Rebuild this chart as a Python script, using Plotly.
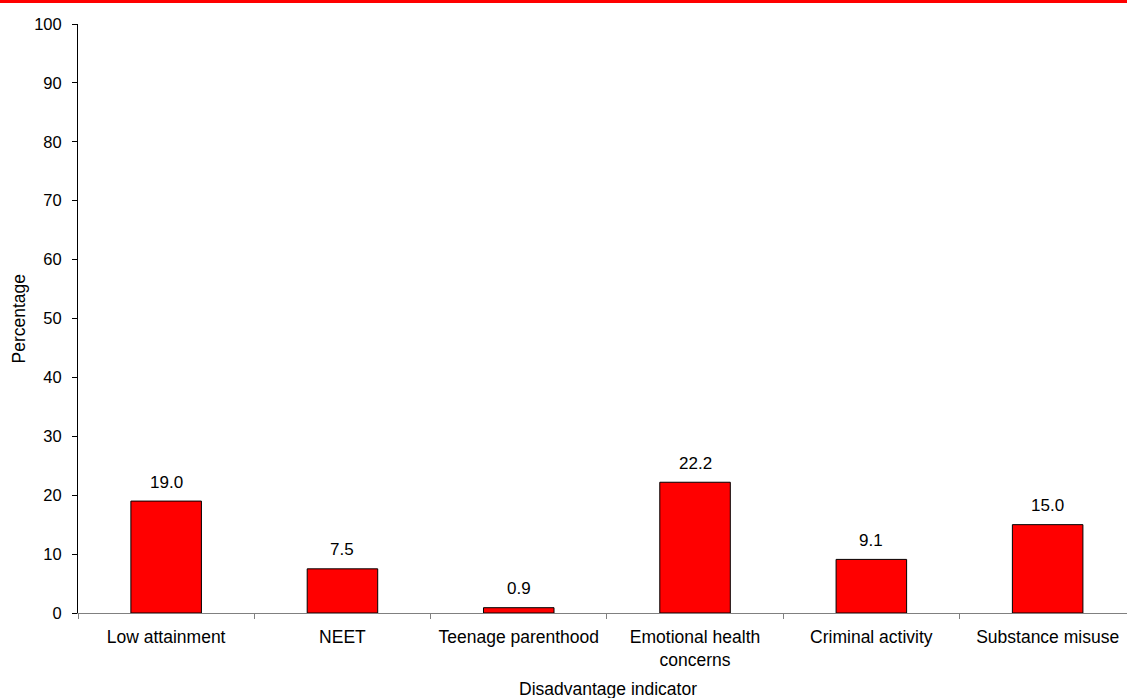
import plotly.graph_objects as go

categories = ["Low attainment", "NEET", "Teenage parenthood",
              "Emotional health<br>concerns", "Criminal activity", "Substance misuse"]
values = [19.0, 7.5, 0.9, 22.2, 9.1, 15.0]
y_ticks = [0, 10, 20, 30, 40, 50, 60, 70, 80, 90, 100]
x_title = "Disadvantage indicator"
y_title = "Percentage"

W, H = 1127, 698
L, R, T, B = 78, 0, 24, 85
plot_w = W - L - R
plot_h = H - T - B
cat_px = 176.3
FONT = "Liberation Sans, Arial, sans-serif"
FS_CAT = 17.5
FS_TICK = 16.5
FS_BAR = 17

fig = go.Figure(go.Bar(
    x=categories, y=values,
    marker=dict(color="#FF0000", line=dict(color="#000000", width=1)),
    width=0.4,
    hoverinfo="x+y",
))

annotations = [
    dict(x=c, y=v, xref="x", yref="y", text=f"{v:.1f}", showarrow=False,
         yanchor="middle", yshift=19, font=dict(size=FS_BAR))
    for c, v in zip(categories, values)
]
annotations.append(dict(
    x=(608 - L) / plot_w, y=-(689 - (T + plot_h)) / plot_h,
    xref="paper", yref="paper", text=x_title, showarrow=False,
    xanchor="center", yanchor="middle", font=dict(size=FS_CAT)))
annotations.append(dict(
    x=-(L - 18) / plot_w, y=0.5, xref="paper", yref="paper",
    text=y_title, showarrow=False, textangle=-90,
    xanchor="center", yanchor="middle", font=dict(size=FS_CAT)))

fig.update_layout(
    width=W, height=H,
    margin=dict(l=L, r=R, t=T, b=B, pad=0),
    paper_bgcolor="white", plot_bgcolor="white",
    font=dict(family=FONT, size=FS_TICK, color="#000000"),
    showlegend=False,
    xaxis=dict(
        type="category",
        range=[-0.5, -0.5 + plot_w / cat_px],
        showline=True, linecolor="#808080", linewidth=1,
        ticks="outside", tickson="boundaries", ticklen=5, tickcolor="#808080",
        showgrid=False, zeroline=False,
        tickfont=dict(size=FS_CAT),
        ticklabelstandoff=8,
    ),
    yaxis=dict(
        range=[0, 100],
        tickvals=y_ticks,
        showline=True, linecolor="#000000", linewidth=1,
        ticks="outside", ticklen=5, tickcolor="#000000",
        showgrid=False, zeroline=False,
        tickfont=dict(size=FS_TICK),
        ticklabelstandoff=7,
    ),
    annotations=annotations,
    shapes=[dict(
        type="rect", xref="paper", yref="paper",
        x0=-L / plot_w, x1=1.0,
        y0=1 + (T - 3) / plot_h, y1=1 + T / plot_h,
        fillcolor="#FF0000", line=dict(width=0), layer="above",
    )],
)

fig.write_html("out.html",
               config={"displayModeBar": False},
               post_script="document.body.style.margin='0px';document.body.style.padding='0px';")
